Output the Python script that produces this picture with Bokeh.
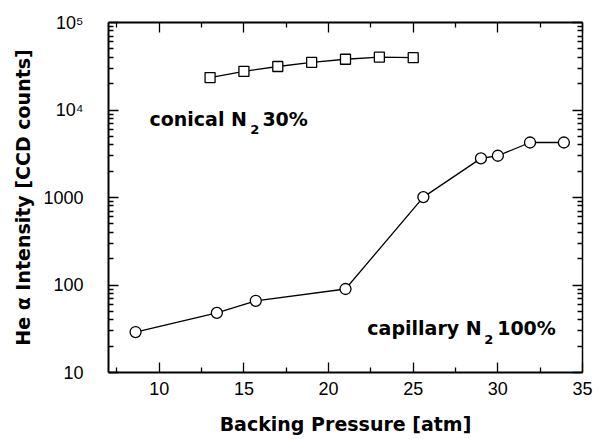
from bokeh.plotting import figure
from bokeh.models import (FixedTicker, LinearAxis, LogAxis, Label, Range1d)
from bokeh.embed import file_html
from bokeh.resources import INLINE

# ---- data ----
capillary_p = [8.6, 13.4, 15.7, 21.0, 25.6, 29.0, 30.0, 31.9, 33.9]
capillary_i = [29, 48, 66, 90, 1010, 2800, 3000, 4250, 4250]

conical_p = [13.0, 15.0, 17.0, 19.0, 21.0, 23.0, 25.0]
conical_i = [23500, 27700, 31400, 35100, 38000, 40300, 39600]

x_major = [10, 15, 20, 25, 30, 35]
x_minor = [7.5, 12.5, 17.5, 22.5, 27.5, 32.5]
y_major = [10, 100, 1000, 10000, 100000]
y_major_labels = ["10", "100", "1000", "10\u2074", "10\u2075"]
y_minor = [m * d for d in [10, 100, 1000, 10000] for m in range(2, 10)]

TICK_FONT = "Liberation Sans"
BOLD_FONT = "DejaVu Sans"

p = figure(width=600, height=437, y_axis_type="log",
           x_range=Range1d(7, 35), y_range=Range1d(10, 100000),
           output_backend="svg", toolbar_location=None,
           min_border_left=108, min_border_right=18,
           min_border_top=22, min_border_bottom=63)
p.grid.visible = False
p.outline_line_color = None
p.background_fill_color = "white"
p.border_fill_color = "white"

xt = FixedTicker(ticks=x_major, minor_ticks=x_minor)
yt = FixedTicker(ticks=y_major, minor_ticks=y_minor)


def style(ax, lw=2, labels=True):
    ax.axis_line_width = lw
    ax.axis_line_color = "black"
    ax.major_tick_in = 10
    ax.major_tick_out = 0
    ax.minor_tick_in = 5
    ax.minor_tick_out = 0
    ax.major_tick_line_width = 1.3
    ax.minor_tick_line_width = 1.3
    ax.major_label_text_font = TICK_FONT
    ax.major_label_text_font_size = "18px"
    ax.major_label_text_color = "black"
    if not labels:
        ax.major_label_text_alpha = 0
        ax.major_label_text_font_size = "1px"


xa = p.xaxis[0]
xa.ticker = xt
style(xa)
xa.major_label_standoff = 9
xa.axis_label = "Backing Pressure [atm]"
xa.axis_label_text_font = BOLD_FONT
xa.axis_label_text_font_style = "bold"
xa.axis_label_text_font_size = "19px"
xa.axis_label_standoff = 15
xa.axis_label_text_color = "black"

ya = p.yaxis[0]
ya.ticker = yt
style(ya)
ya.major_label_overrides = {v: s for v, s in zip(y_major, y_major_labels)}
ya.major_label_standoff = 25
ya.axis_label = "He \u03b1 Intensity [CCD counts]"
ya.axis_label_text_font = BOLD_FONT
ya.axis_label_text_font_style = "bold"
ya.axis_label_text_font_size = "19px"
ya.axis_label_standoff = 6
ya.axis_label_text_color = "black"

top = LinearAxis(ticker=xt)
style(top, lw=2, labels=False)
p.add_layout(top, "above")

right = LogAxis(ticker=yt)
style(right, lw=1.5, labels=False)
p.add_layout(right, "right")

# ---- series ----
p.line(capillary_p, capillary_i, line_color="black", line_width=1.3)
p.scatter(capillary_p, capillary_i, marker="circle", size=11,
          fill_color="white", line_color="black", line_width=1.3)

p.line(conical_p, conical_i, line_color="black", line_width=1.3)
p.scatter(conical_p, conical_i, marker="square", size=10,
          fill_color="white", line_color="black", line_width=1.3)

# ---- annotations ----
def lab(x, y, t, size="19px"):
    p.add_layout(Label(x=x, y=y, text=t, text_font=BOLD_FONT,
                       text_font_style="bold", text_font_size=size,
                       text_color="black", text_baseline="alphabetic",
                       text_align="left"))

lab(9.42, 7910, "conical N")
lab(15.38, 5930, "2", "13px")
lab(16.09, 7910, "30%")

lab(22.29, 32.4, "capillary N")
lab(29.2, 23.7, "2", "13px")
lab(29.96, 32.4, "100%")

open("out.html", "w").write(file_html(p, INLINE))
